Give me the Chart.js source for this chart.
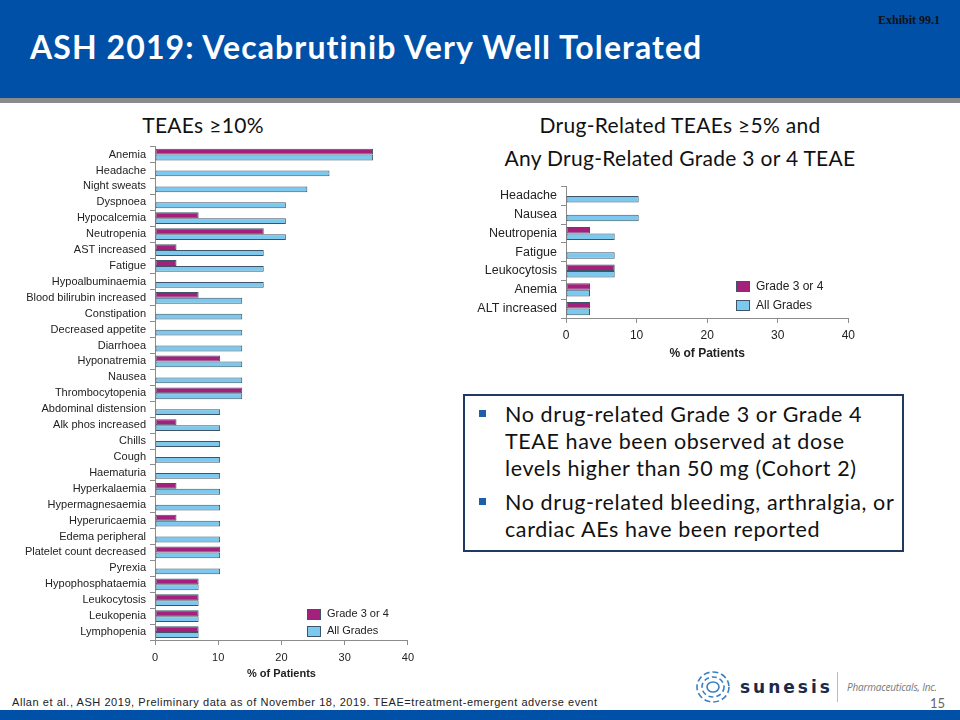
<!DOCTYPE html>
<html lang="en">
  <head>
    <meta charset="utf-8" />
    <title>ASH 2019: Vecabrutinib Very Well Tolerated</title>
    <style>
      body { margin: 0; width: 960px; height: 720px; position: relative; background: #fff; overflow: hidden; font-family: "Liberation Sans", Arial, sans-serif; }
      .abs { position: absolute; }
      #header { left: 0; top: 0; width: 960px; height: 98px; background: #0050a8; }
      #strip { left: 0; top: 98px; width: 960px; height: 5px; background: #8a8a8a; }
      #title { left: 30px; top: 27px; color: #fff; font: bold 32px Lato, "Open Sans", sans-serif; letter-spacing: 1.1px; white-space: nowrap; }
      #exhibit { right: 20px; top: 13px; font: bold 12px "Liberation Serif", serif; color: #111; }
      .ctitle { font: 21px Lato, "Open Sans", sans-serif; color: #111; text-align: center; white-space: nowrap; letter-spacing: 0.3px; }
      .lg { font-size: 11px; color: #222; white-space: nowrap; }
      .sw { display: inline-block; width: 12px; height: 9px; border: 1px solid #3d5566; vertical-align: middle; margin-right: 6px; }
      #box { left: 463px; top: 394px; width: 437px; height: 154px; border: 2px solid #1f3864; }
      .bul { font: 21.5px Lato, "Open Sans", sans-serif; color: #111; line-height: 27px; letter-spacing: 0.6px; white-space: nowrap; }
      .sq { width: 7px; height: 7px; background: #1f5fa8; }
      #footer { left: 0; top: 710px; width: 960px; height: 10px; background: #0050a8; }
      #cite { left: 12px; top: 696px; font: 11px "Liberation Sans Narrow", "Liberation Sans", sans-serif; letter-spacing: 0.55px; color: #222; white-space: nowrap; }
    </style>
  </head>
  <body>
    <div id="header" class="abs"></div>
    <div id="strip" class="abs"></div>
    <div id="title" class="abs">ASH 2019: Vecabrutinib Very Well Tolerated</div>
    <div id="exhibit" class="abs">Exhibit 99.1</div>

    <div class="abs ctitle" style="left: 103px; top: 112px; width: 200px;">TEAEs ≥10%</div>
    <div class="abs ctitle" style="left: 480px; top: 112px; width: 400px;">Drug-Related TEAEs ≥5% and</div>
    <div class="abs ctitle" style="left: 480px; top: 145px; width: 400px;">Any Drug-Related Grade 3 or 4 TEAE</div>

    <canvas id="teae" class="abs" width="420" height="549" style="left: 0; top: 136px;"></canvas>
    <canvas id="drug" class="abs" width="400" height="190" style="left: 460px; top: 175px;"></canvas>

    <div class="abs lg" style="left: 307px; top: 607px;"><span class="sw" style="background:#a3207d"></span>Grade 3 or 4</div>
    <div class="abs lg" style="left: 307px; top: 624px;"><span class="sw" style="background:#7cc8ee"></span>All Grades</div>
    <div class="abs lg" style="left: 736px; top: 279px; font-size: 12px;"><span class="sw" style="background:#a3207d"></span>Grade 3 or 4</div>
    <div class="abs lg" style="left: 736px; top: 298px; font-size: 12px;"><span class="sw" style="background:#7cc8ee"></span>All Grades</div>

    <div id="box" class="abs"></div>
    <div class="abs sq" style="left: 479px; top: 410px;"></div>
    <div class="abs bul" style="left: 505px; top: 401px;">No drug-related Grade 3 or Grade 4<br />TEAE have been observed at dose<br />levels higher than 50 mg (Cohort 2)</div>
    <div class="abs sq" style="left: 479px; top: 498px;"></div>
    <div class="abs bul" style="left: 505px; top: 489px;">No drug-related bleeding, arthralgia, or<br />cardiac AEs have been reported</div>

    <svg class="abs" style="left: 692px; top: 668px;" width="42" height="38" viewBox="0 0 42 38">
      <g fill="none" stroke="#3a7fc4" stroke-width="1.6">
        <ellipse cx="21" cy="19" rx="16" ry="15" stroke-dasharray="6 3" />
        <ellipse cx="21" cy="19" rx="11" ry="10" stroke-dasharray="5 3" />
        <ellipse cx="21" cy="19" rx="6" ry="5" />
      </g>
    </svg>
    <div class="abs" style="left: 740px; top: 677px; font: bold 17px 'DejaVu Sans', sans-serif; letter-spacing: 3px; color: #1b2a4a;">sunesis</div>
    <div class="abs" style="left: 837px; top: 672px; width: 1px; height: 30px; background: #bbb;"></div>
    <div class="abs" style="left: 847px; top: 680px; font: italic 10px 'Open Sans', sans-serif; letter-spacing: -0.2px; color: #777;">Pharmaceuticals, Inc.</div>
    <div class="abs" style="left: 930px; top: 695px; font: 13px Lato, sans-serif; color: #666;">15</div>
    <div id="cite" class="abs">Allan et al., ASH 2019, Preliminary data as of November  18, 2019.  TEAE=treatment-emergent  adverse event</div>
    <div id="footer" class="abs"></div>

    <script src="https://cdn.jsdelivr.net/npm/chart.js"></script>
    <script>
      // TEAEs >=10% (left chart), % of patients
      const teaeLabels = [
        "Anemia", "Headache", "Night sweats", "Dyspnoea", "Hypocalcemia", "Neutropenia",
        "AST increased", "Fatigue", "Hypoalbuminaemia", "Blood bilirubin increased",
        "Constipation", "Decreased appetite", "Diarrhoea", "Hyponatremia", "Nausea",
        "Thrombocytopenia", "Abdominal distension", "Alk phos increased", "Chills", "Cough",
        "Haematuria", "Hyperkalaemia", "Hypermagnesaemia", "Hyperuricaemia", "Edema peripheral",
        "Platelet count decreased", "Pyrexia", "Hypophosphataemia", "Leukocytosis",
        "Leukopenia", "Lymphopenia",
      ];
      const teaeGrade34 = [
        34.5, null, null, null, 6.9, 17.2, 3.4, 3.4, null, 6.9,
        null, null, null, 10.3, null, 13.8, null, 3.4, null, null,
        null, 3.4, null, 3.4, null, 10.3, null, 6.9, 6.9, 6.9, 6.9,
      ];
      const teaeAll = [
        34.5, 27.6, 24.1, 20.7, 20.7, 20.7, 17.2, 17.2, 17.2, 13.8,
        13.8, 13.8, 13.8, 13.8, 13.8, 13.8, 10.3, 10.3, 10.3, 10.3,
        10.3, 10.3, 10.3, 10.3, 10.3, 10.3, 10.3, 6.9, 6.9, 6.9, 6.9,
      ];

      // Drug-related TEAEs (right chart)
      const drugLabels = ["Headache", "Nausea", "Neutropenia", "Fatigue", "Leukocytosis", "Anemia", "ALT increased"];
      const drugGrade34 = [null, null, 3.4, null, 6.9, 3.4, 3.4];
      const drugAll = [10.3, 10.3, 6.9, 6.9, 6.9, 3.4, 3.4];

      const xTicks = [0, 10, 20, 30, 40];

      const magenta = "#a3207d";
      const sky = "#7cc8ee";
      const edge = "#3d5566";
      const axisColor = "#8c8c8c";

      function makeChart(id, labels, g34, all, opt) {
        return new Chart(document.getElementById(id), {
          type: "bar",
          data: {
            labels: labels,
            datasets: [
              { label: "Grade 3 or 4", data: g34, backgroundColor: magenta },
              { label: "All Grades", data: all, backgroundColor: sky },
            ],
          },
          options: {
            indexAxis: "y",
            responsive: false,
            animation: false,
            layout: { padding: { top: 5, right: opt.padRight, left: 0, bottom: 0 } },
            datasets: {
              bar: {
                borderColor: edge,
                borderWidth: 1,
                borderSkipped: false,
                categoryPercentage: opt.catPct,
                barPercentage: 1,
              },
            },
            plugins: { legend: { display: false }, tooltip: { enabled: false } },
            scales: {
              x: {
                min: 0,
                max: 40,
                afterBuildTicks: (s) => { s.ticks = xTicks.map((v) => ({ value: v })); },
                afterFit: (s) => { s.height = opt.xHeight; },
                grid: { drawOnChartArea: false, color: axisColor, tickLength: 5 },
                border: { color: axisColor },
                ticks: { color: "#222", padding: opt.xPad, font: { family: "Liberation Sans", size: opt.tickSize } },
                title: {
                  display: true,
                  text: "% of Patients",
                  color: "#222",
                  padding: { top: 4, bottom: 4 },
                  font: { family: "Liberation Sans", size: opt.tickSize, weight: "bold" },
                },
              },
              y: {
                afterFit: (s) => { s.width = opt.yWidth; },
                grid: { drawOnChartArea: false, color: axisColor, tickLength: 5 },
                border: { color: axisColor },
                ticks: { color: "#222", padding: 4, autoSkip: false, font: { family: "Liberation Sans", size: opt.labelSize } },
              },
            },
          },
        });
      }

      makeChart("teae", teaeLabels, teaeGrade34, teaeAll, {
        padRight: 11, catPct: 0.74, xHeight: 45, xPad: 6, tickSize: 11, labelSize: 11, yWidth: 155,
      });
      makeChart("drug", drugLabels, drugGrade34, drugAll, {
        padRight: 10, catPct: 0.7, xHeight: 47, xPad: 5, tickSize: 12, labelSize: 12.5, yWidth: 106,
      });
    </script>
  </body>
</html>
